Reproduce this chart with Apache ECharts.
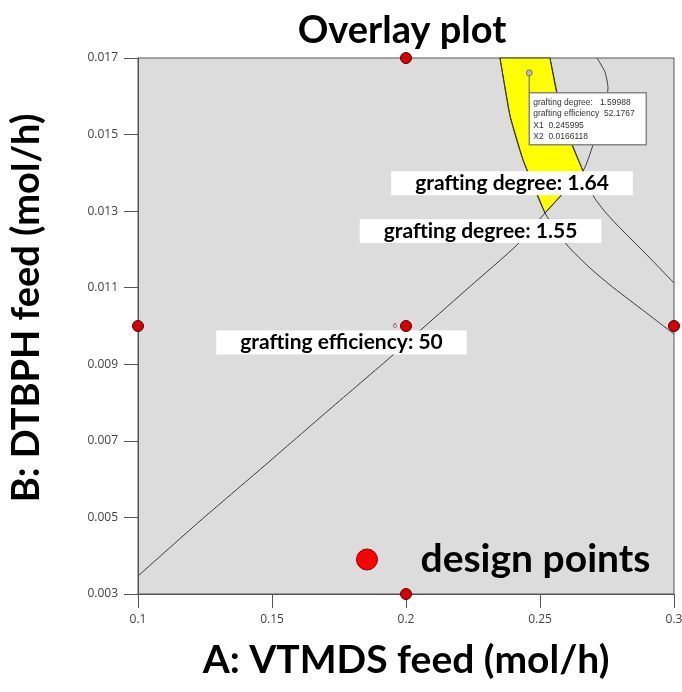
<!DOCTYPE html>
<html><head><meta charset="utf-8">
<script src="https://cdn.jsdelivr.net/npm/echarts@6/dist/echarts.min.js"></script>
<style>html,body{margin:0;padding:0;background:#fff}#c{width:682px;height:692px}</style>
</head><body><div id="c"></div>
<script>
// ---- data ----
const designX = [0.2, 0.1, 0.2, 0.3, 0.2];
const designY = [0.017, 0.010, 0.010, 0.010, 0.003];
const designReplicates = ['', '', '6', '', ''];

// grafting efficiency = 50 contour
const eff50X = [0.1, 0.12313, 0.14664, 0.17164, 0.19515, 0.20634, 0.22388, 0.24142, 0.25187, 0.26604, 0.26978, 0.27276, 0.27463, 0.27537, 0.27425, 0.27127];
const eff50Y = [0.00347, 0.004907, 0.006317, 0.007832, 0.009243, 0.009948, 0.011032, 0.012116, 0.012952, 0.014049, 0.014728, 0.015381, 0.015903, 0.016216, 0.016634, 0.017];
// grafting degree = 1.55 contour
const deg155X = [0.23507, 0.23881, 0.24366, 0.25187, 0.26007, 0.26866, 0.27612, 0.28731, 0.3];
const deg155Y = [0.017, 0.015485, 0.014336, 0.012952, 0.012116, 0.011515, 0.011071, 0.01047, 0.009791];
// grafting degree = 1.64 contour
const deg164X = [0.25373, 0.25858, 0.26604, 0.27015, 0.27463, 0.28060, 0.28918, 0.3];
const deg164Y = [0.017, 0.015328, 0.014049, 0.013369, 0.012952, 0.012508, 0.011907, 0.011123];

const contourLabelText = ['grafting degree: 1.64', 'grafting degree: 1.55', 'grafting efficiency: 50'];
const contourLabelX = [0.23955, 0.22780, 0.17593];
const contourLabelY = [0.013727, 0.012481, 0.009569];

const probeX = 0.245995, probeY = 0.0166118, probeDegree = 1.59988, probeEff = 52.1767;

const xTickMin = 0.1, xTickMax = 0.3, xTickStep = 0.05;
const yTickMin = 0.003, yTickMax = 0.017, yTickStep = 0.002;

// ---- build ----
const zip = (xs, ys) => xs.map((x, i) => [x, ys[i]]);
const eff50 = zip(eff50X, eff50Y), deg155 = zip(deg155X, deg155Y), deg164 = zip(deg164X, deg164Y);
const tipIdx155 = 3, tipIdxEff = 8, crossIdxEff = 9, crossIdx164 = 2;
const feasible = deg155.slice(0, tipIdx155 + 1)
  .concat(eff50.slice(tipIdxEff + 1, crossIdxEff + 1))
  .concat(deg164.slice(0, crossIdx164).reverse());

const boldFont = 'Lato';
const lineStyle = {color: '#3a3a3a', width: 1};
function contour(name, data) {
  return {type: 'line', name, data, symbol: 'none', smooth: 0.2, lineStyle, z: 3, silent: true};
}

const chart = echarts.init(document.getElementById('c'), null, {renderer: 'canvas'});
chart.setOption({
  animation: false,
  title: {
    text: 'Overlay plot', left: 397, top: 7, textAlign: 'center',
    textStyle: {fontFamily: boldFont, fontWeight: 'bold', fontSize: 38, color: '#000'}
  },
  grid: {left: 138, right: 8, top: 58, bottom: 98, containLabel: false, outerBoundsMode: 'none',
    show: true, backgroundColor: '#dcdcdc', borderColor: '#555', borderWidth: 1},
  legend: {
    left: 351, top: 535, padding: 5, itemWidth: 21, itemHeight: 21,
    data: [{name: 'design points', icon: 'circle', itemStyle: {color: '#ff0000', borderColor: '#8a0000', borderWidth: 1}}],
    textStyle: {fontFamily: boldFont, fontWeight: 'bold', fontSize: 39, color: '#000', padding: [0, 0, 0, 38]}
  },
  xAxis: {
    type: 'value', min: xTickMin, max: xTickMax, interval: xTickStep,
    name: 'A: VTMDS feed (mol/h)', nameLocation: 'middle', nameGap: 47,
    nameTextStyle: {fontFamily: boldFont, fontWeight: 'bold', fontSize: 39, color: '#000'},
    axisLine: {lineStyle: {color: '#555'}},
    axisTick: {length: 14, lineStyle: {color: '#555'}},
    axisLabel: {margin: 20, fontFamily: 'Open Sans', fontSize: 12, color: '#444'},
    splitLine: {show: false}
  },
  yAxis: {
    type: 'value', min: yTickMin, max: yTickMax, interval: yTickStep,
    name: 'B: DTBPH feed (mol/h)', nameLocation: 'middle', nameGap: 92,
    nameTextStyle: {fontFamily: boldFont, fontWeight: 'bold', fontSize: 38, color: '#000', padding: [0, 0, 0, 36]},
    axisLine: {lineStyle: {color: '#555'}},
    axisTick: {length: 14, lineStyle: {color: '#555'}},
    axisLabel: {margin: 20, fontFamily: 'Open Sans', fontSize: 12, color: '#444'},
    splitLine: {show: false}
  },
  series: [
    {
      type: 'custom', name: 'feasible region', silent: true, z: 2,
      data: [0],
      renderItem: function (params, api) {
        return {type: 'polygon', shape: {points: feasible.map(p => api.coord(p))}, style: {fill: '#ffff00', stroke: '#3a3a3a', lineWidth: 1}};
      }
    },
    contour('grafting efficiency 50', eff50),
    contour('grafting degree 1.55', deg155),
    contour('grafting degree 1.64', deg164),
    {
      type: 'scatter', name: 'contour labels', silent: true, z: 5, symbolSize: 0,
      itemStyle: {opacity: 1},
      data: contourLabelText.map((t, i) => ({value: [contourLabelX[i], contourLabelY[i]], name: t})),
      label: {
        show: true, position: 'inside', formatter: '{b}',
        fontFamily: boldFont, fontWeight: 'bold', fontSize: 21, color: '#000',
        backgroundColor: '#fff', padding: [2, 24, 2, 24], lineHeight: 20
      }
    },
    {
      type: 'scatter', name: 'design points', z: 6, symbol: 'circle', symbolSize: 11,
      itemStyle: {color: '#d40000', borderColor: '#5a0000', borderWidth: 1, opacity: 1},
      data: designX.map((x, i) => ({
        value: [x, designY[i]],
        label: designReplicates[i] ? {show: true, formatter: designReplicates[i], position: 'left', distance: 3, fontSize: 7, color: '#555', fontFamily: 'Open Sans'} : {show: false}
      }))
    },
    {
      type: 'custom', name: 'probe', silent: true, z: 7,
      data: [[probeX, probeY]],
      renderItem: function (params, api) {
        const p = api.coord([api.value(0), api.value(1)]);
        const txt = 'grafting degree:   ' + probeDegree + '\ngrafting efficiency  ' + probeEff + '\nX1  ' + probeX + '\nX2  ' + probeY;
        return {type: 'group', children: [
          {type: 'line', shape: {x1: p[0], y1: p[1], x2: p[0], y2: p[1] + 20}, style: {stroke: '#888', lineWidth: 1.5}},
          {type: 'circle', shape: {cx: p[0], cy: p[1], r: 3}, style: {fill: '#bbb', stroke: '#777', lineWidth: 1}},
          {type: 'rect', shape: {x: p[0], y: p[1] + 20, width: 117, height: 52}, style: {fill: '#fff', stroke: '#888', lineWidth: 1.5}},
          {type: 'text', x: p[0] + 4, y: p[1] + 24, style: {text: txt, font: '8.5px "Liberation Sans"', fill: '#333', lineHeight: 11.5}}
        ]};
      }
    }
  ]
});
</script></body></html>
